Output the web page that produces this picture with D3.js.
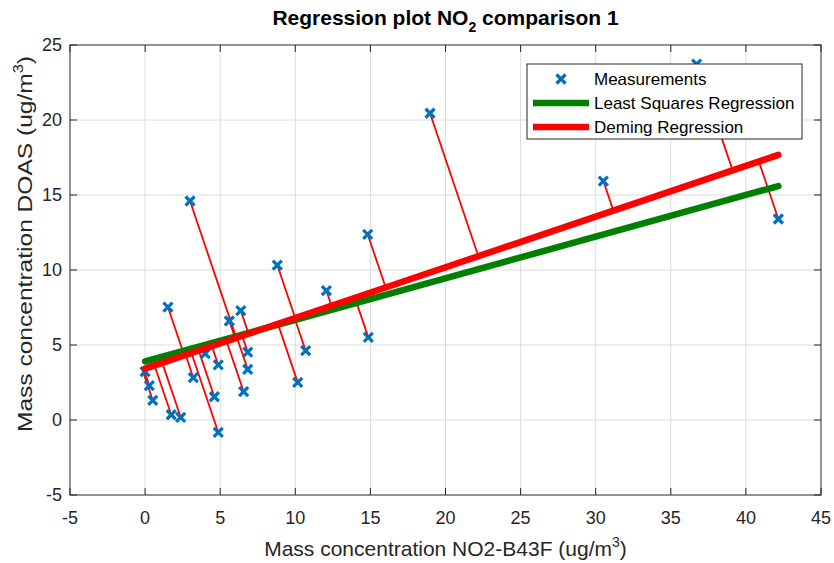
<!DOCTYPE html>
<html><head><meta charset="utf-8">
<script src="https://cdn.jsdelivr.net/npm/d3@7"></script>
<style>body{margin:0;background:#fff;} svg{display:block;}</style>
</head><body>
<svg id="chart" width="834" height="563"></svg>
<script>
// ---- data ----
const measX = [2.99,1.52,0.0,0.28,0.51,1.74,2.37,3.21,4.0,4.87,4.61,4.87,5.61,6.37,6.83,6.83,6.56,8.80,10.69,10.16,12.07,14.82,14.86,18.97,30.51,42.16,36.72];
const measY = [14.6,7.53,3.22,2.29,1.31,0.35,0.18,2.82,4.42,3.67,1.55,-0.82,6.6,7.29,4.53,3.38,1.89,10.33,4.62,2.51,8.62,12.38,5.51,20.45,15.93,13.4,23.73];
const lsqLine = [3.9, 0.2775];     // intercept, slope
const demingLine = [3.42, 0.338];  // intercept, slope
const xTicks = [-5,0,5,10,15,20,25,30,35,40,45];
const yTicks = [-5,0,5,10,15,20,25];
const legendLabels = ["Measurements","Least Squares Regression","Deming Regression"];

const svg = d3.select("#chart");
const L=70, R=821, T=45, B=495;
const x = d3.scaleLinear().domain([-5,45]).range([L,R]);
const y = d3.scaleLinear().domain([-5,25]).range([B,T]);
const font = "'Liberation Sans', Arial, Helvetica, sans-serif";
const axisCol = "#262626";

// grid
const g = svg.append("g");
g.selectAll(".gx").data(xTicks.slice(1,-1)).join("line")
  .attr("x1",d=>x(d)).attr("x2",d=>x(d)).attr("y1",T).attr("y2",B)
  .attr("stroke","#dcdcdc").attr("stroke-width",1);
g.selectAll(".gy").data(yTicks.slice(1,-1)).join("line")
  .attr("y1",d=>y(d)).attr("y2",d=>y(d)).attr("x1",L).attr("x2",R)
  .attr("stroke","#dcdcdc").attr("stroke-width",1);

const pts = measX.map((v,i)=>({x:v,y:measY[i]}));
const [a,b] = demingLine;
function proj(p){ const t=(p.x + b*(p.y-a))/(1+b*b); return {x:t,y:a+b*t}; }

// connectors
svg.append("g").selectAll("line").data(pts).join("line")
  .attr("x1",d=>x(d.x)).attr("y1",d=>y(d.y))
  .attr("x2",d=>x(proj(d).x)).attr("y2",d=>y(proj(d).y))
  .attr("stroke","#ff0000").attr("stroke-width",1.8);

// markers
const ms=4.5;
function xMark(sel){
  sel.append("path").attr("d",`M${-ms},${-ms}L${ms},${ms}M${-ms},${ms}L${ms},${-ms}`)
    .attr("stroke","#0072BD").attr("stroke-width",3.2).attr("fill","none");
}
svg.append("g").selectAll("g").data(pts).join("g")
  .attr("transform",d=>`translate(${x(d.x)},${y(d.y)})`).call(xMark);

const xmin=d3.min(measX), xmax=d3.max(measX);
const line=d3.line().x(d=>x(d[0])).y(d=>y(d[1]));
svg.append("path").attr("d",line([[xmin,lsqLine[0]+lsqLine[1]*xmin],[xmax,lsqLine[0]+lsqLine[1]*xmax]]))
  .attr("stroke","#008000").attr("stroke-width",6.5).attr("stroke-linecap","round").attr("fill","none");
svg.append("path").attr("d",line([[xmin,a+b*xmin],[xmax,a+b*xmax]]))
  .attr("stroke","#ff0000").attr("stroke-width",6.5).attr("stroke-linecap","round").attr("fill","none");

// axes box and ticks
const tl=7;
const ax=svg.append("g");
ax.append("rect").attr("x",L).attr("y",T).attr("width",R-L).attr("height",B-T)
  .attr("fill","none").attr("stroke",axisCol).attr("stroke-width",1);
ax.selectAll(".tb").data(xTicks).join("path")
  .attr("d",d=>`M${x(d)},${B}v${-tl}M${x(d)},${T}v${tl}`).attr("stroke",axisCol);
ax.selectAll(".tl").data(yTicks).join("path")
  .attr("d",d=>`M${L},${y(d)}h${tl}M${R},${y(d)}h${-tl}`).attr("stroke",axisCol);
ax.selectAll(".xl").data(xTicks).join("text")
  .attr("x",d=>x(d)).attr("y",B+29).attr("text-anchor","middle")
  .attr("font-family",font).attr("font-size",18).attr("fill",axisCol).text(d=>d);
ax.selectAll(".yl").data(yTicks).join("text")
  .attr("x",L-8).attr("y",d=>y(d)+6).attr("text-anchor","end")
  .attr("font-family",font).attr("font-size",18).attr("fill",axisCol).text(d=>d);

// labels
const xl=svg.append("text").attr("x",(L+R)/2).attr("y",556).attr("text-anchor","middle")
  .attr("font-family",font).attr("font-size",21).attr("fill",axisCol);
xl.append("tspan").text("Mass concentration NO2-B43F (ug/m");
xl.append("tspan").attr("font-size",14).attr("dy",-9).text("3");
xl.append("tspan").attr("dy",9).text(")");

const yl=svg.append("text").attr("transform",`translate(32,244) rotate(-90)`).attr("text-anchor","middle")
  .attr("font-family",font).attr("font-size",21).attr("fill",axisCol)
  .attr("textLength",376).attr("lengthAdjust","spacingAndGlyphs");
yl.append("tspan").text("Mass concentration DOAS (ug/m");
yl.append("tspan").attr("font-size",14).attr("dy",-9).text("3");
yl.append("tspan").attr("dy",9).text(")");

const tt=svg.append("text").attr("x",(L+R)/2).attr("y",25).attr("text-anchor","middle")
  .attr("font-family",font).attr("font-size",21).attr("font-weight","bold").attr("fill","#000");
tt.append("tspan").text("Regression plot NO");
tt.append("tspan").attr("font-size",14).attr("dy",7).text("2");
tt.append("tspan").attr("dy",-7).text(" comparison 1");

// legend
const lg=svg.append("g");
lg.append("rect").attr("x",527).attr("y",64).attr("width",275).attr("height",75)
  .attr("fill","#fff").attr("stroke",axisCol).attr("stroke-width",1);
const rows=[79,103,127];
lg.append("g").attr("transform",`translate(561,${rows[0]})`).call(xMark);
lg.append("line").attr("x1",533).attr("x2",589).attr("y1",rows[1]).attr("y2",rows[1])
  .attr("stroke","#008000").attr("stroke-width",6.5);
lg.append("line").attr("x1",533).attr("x2",589).attr("y1",rows[2]).attr("y2",rows[2])
  .attr("stroke","#ff0000").attr("stroke-width",6.5);
lg.selectAll("text.lt").data(legendLabels).join("text")
  .attr("x",594).attr("y",(d,i)=>rows[i]+6).attr("font-family",font).attr("font-size",17)
  .attr("fill","#000").text(d=>d);
</script>
</body></html>
